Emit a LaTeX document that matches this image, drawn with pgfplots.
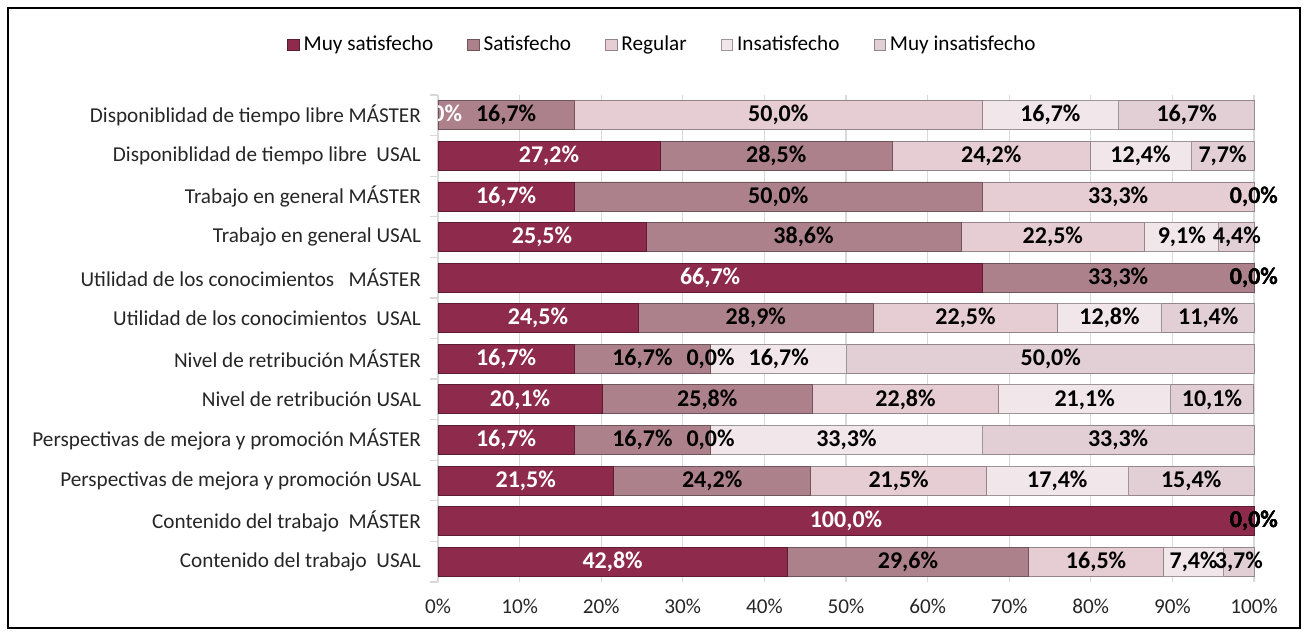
\documentclass[border=0pt]{standalone}
\usepackage{pgfplots}
\usepackage{pgfplotstable}
\pgfplotsset{compat=1.18}
\usepackage{fontspec}
\setmainfont{Carlito}
\definecolor{cA}{HTML}{8E2B4D}
\definecolor{cB}{HTML}{AD818C}
\definecolor{cC}{HTML}{E6CDD4}
\definecolor{cD}{HTML}{F1E6E9}
\definecolor{cE}{HTML}{E2CFD5}
\definecolor{gridc}{HTML}{D9D9D9}
% y: 0 = Contenido del trabajo USAL ... 11 = Disponiblidad MÁSTER
\pgfplotstableread{
y  a     b     c     d     e
0  42.8  29.6  16.5  7.4   3.7
1  100.0 0.0   0.0   0.0   0.0
2  21.5  24.2  21.5  17.4  15.4
3  16.7  16.7  0.0   33.3  33.3
4  20.1  25.8  22.8  21.1  10.1
5  16.7  16.7  0.0   16.7  50.0
6  24.5  28.9  22.5  12.8  11.4
7  66.7  33.3  0.0   0.0   0.0
8  25.5  38.6  22.5  9.1   4.4
9  16.7  50.0  33.3  0.0   0.0
10 27.2  28.5  24.2  12.4  7.7
11 0.0   16.7  50.0  16.7  16.7
}\data
\pgfplotsset{
  segstyle/.style={fill=#1, draw=#1!65!black, line width=0.4pt},
  geom/.style={
    at={(219pt,26.5pt)}, anchor=south west,
    scale only axis, width=408.8pt, height=243.5pt,
    xbar stacked, bar width=14.5pt,
    xmin=0, xmax=100.2, ymin=-0.5, ymax=11.5},
  lbl/.style={
    nodes near coords={\pgfmathprintnumber[fixed,fixed zerofill,precision=1,use comma,assume math mode=true]{\pgfplotspointmeta}\%},
    every node near coord/.append style={font=\fontsize{12}{14}\bfseries, text=#1}},
}
\begin{document}
\begin{tikzpicture}
\path[use as bounding box] (0,0) rectangle (654pt,317.5pt);
\draw[black, line width=1.2pt] (4pt,3.5pt) rectangle (650pt,313.5pt);
\begin{axis}[
  geom,
  xtick={0,10,...,100},
  xticklabel={\pgfmathprintnumber{\tick}\%},
  ytick={0,...,11},
  yticklabels={Contenido del trabajo\ \ USAL, Contenido del trabajo\ \ MÁSTER,
    Perspectivas de mejora y promoción USAL, Perspectivas de mejora y promoción MÁSTER,
    Nivel de retribución USAL, Nivel de retribución MÁSTER,
    Utilidad de los conocimientos\ \ USAL, Utilidad de los conocimientos\ \ \ MÁSTER,
    Trabajo en general USAL, Trabajo en general MÁSTER,
    Disponiblidad de tiempo libre\ \ USAL, Disponiblidad de tiempo libre MÁSTER},
  minor ytick={-0.5,0.5,...,11.5},
  xmajorgrids, major grid style={draw=gridc, line width=0.6pt},
  axis lines*=left,
  x axis line style={draw=none},
  y axis line style={draw=gridc, line width=0.6pt},
  tick align=outside,
  major tick length=0pt,
  minor tick length=4pt,
  minor tick style={draw=gridc, line width=0.6pt},
  tick label style={font=\fontsize{10.6}{12}\selectfont, text=black!85},
  xticklabel style={yshift=-5pt},
  yticklabel style={xshift=-5pt},
  /pgf/number format/assume math mode=true,
  legend columns=5,
  legend style={draw=none, at={(0.2757,1.1027)}, anchor=center,
    font=\fontsize{10.6}{12}\selectfont,
    /tikz/every even column/.append style={column sep=15pt}},
  legend image code/.code={\fill[#1] (0pt,-2.9pt) rectangle (5.8pt,2.9pt);},
]
\addplot+[segstyle=cA] table[x=a, y=y] {\data};
\addplot+[segstyle=cB] table[x=b, y=y] {\data};
\addplot+[segstyle=cC] table[x=c, y=y] {\data};
\addplot+[segstyle=cD] table[x=d, y=y] {\data};
\addplot+[segstyle=cE] table[x=e, y=y] {\data};
\legend{Muy satisfecho, Satisfecho, Regular, Insatisfecho, Muy insatisfecho}
\end{axis}
% labels on top of all bars (zero-length segments get a hair width so that their label is drawn),
% cut off at the left edge of the plot area as in the reference
\begin{scope}
\clip (219pt,0pt) rectangle (654pt,317.5pt);
\begin{axis}[geom, hide axis, point meta=explicit]
\addplot+[draw=none, fill=none, lbl=white] table[x expr=\thisrow{a}+0.0001, y=y, meta=a] {\data};
\addplot+[draw=none, fill=none, lbl=black] table[x expr=\thisrow{b}+0.0001, y=y, meta=b] {\data};
\addplot+[draw=none, fill=none, lbl=black] table[x expr=\thisrow{c}+0.0001, y=y, meta=c] {\data};
\addplot+[draw=none, fill=none, lbl=black] table[x expr=\thisrow{d}+0.0001, y=y, meta=d] {\data};
\addplot+[draw=none, fill=none, lbl=black] table[x expr=\thisrow{e}+0.0001, y=y, meta=e] {\data};
\end{axis}
\end{scope}
\end{tikzpicture}
\end{document}
